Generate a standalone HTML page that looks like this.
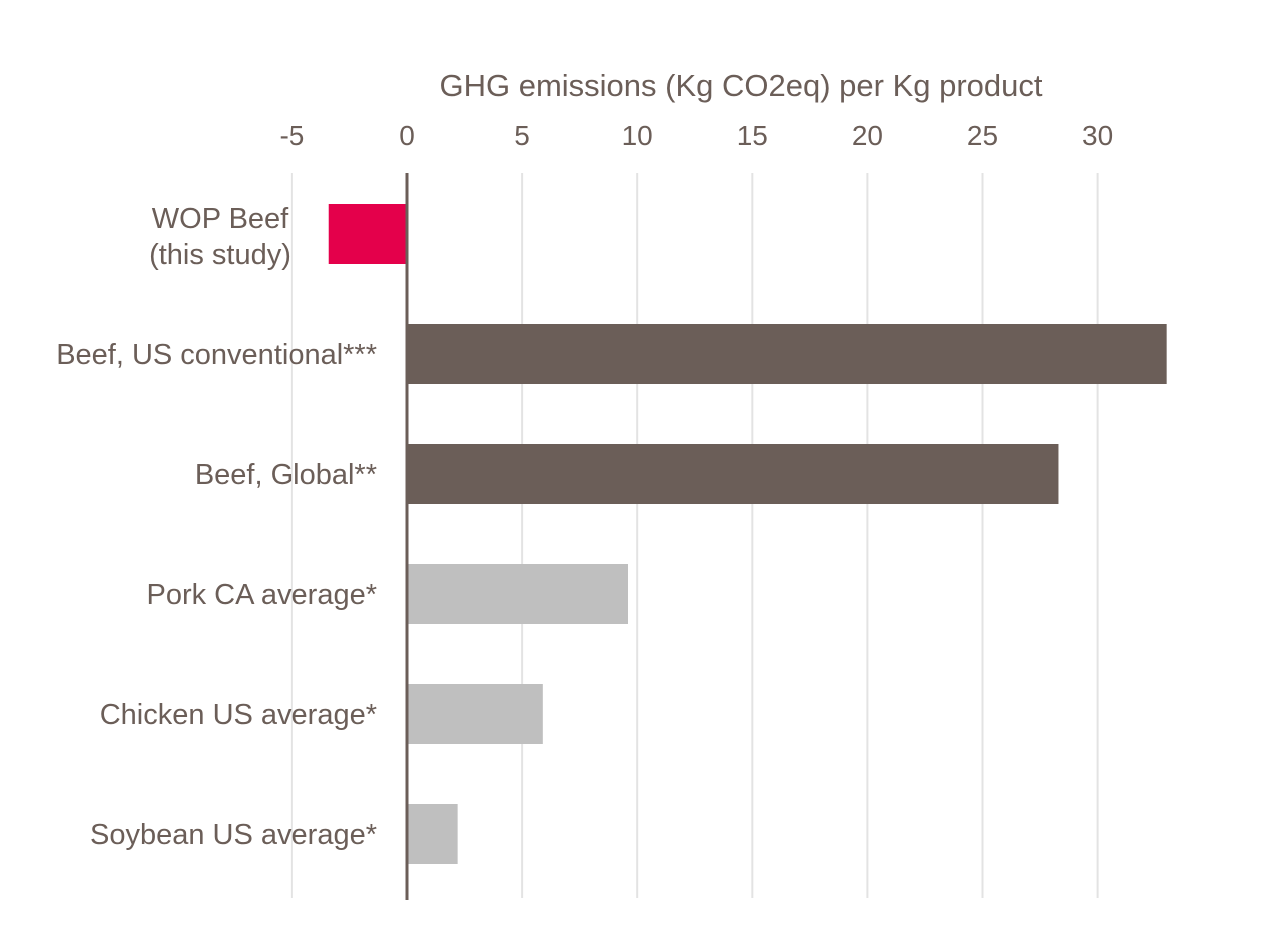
<!DOCTYPE html>
<html><head><meta charset="utf-8"><style>
html,body{margin:0;padding:0;background:#fff;}
svg text{font-family:"Liberation Sans",sans-serif;fill:#6b5e58;}
</style></head><body>
<svg id="chart" width="1268" height="922" viewBox="0 0 1268 922" xmlns="http://www.w3.org/2000/svg">
<text x="741" y="96" font-size="31" text-anchor="middle">GHG emissions (Kg CO2eq) per Kg product</text>
<g id="grid"></g><g id="ticks"></g><g id="bars"></g><g id="labels"></g>
</svg>
<script>
const categories = ["WOP Beef|(this study)","Beef, US conventional***","Beef, Global**","Pork CA average*","Chicken US average*","Soybean US average*"];
const values = [-3.4, 33.0, 28.3, 9.6, 5.9, 2.2];
const colors = ["#e4004b","#6b5e58","#6b5e58","#bfbfbf","#bfbfbf","#bfbfbf"];
const tickValues = [-5,0,5,10,15,20,25,30];
const NS="http://www.w3.org/2000/svg";
const x0=407, pxPerUnit=23.02, plotTop=173, plotBottom=898, band=120, firstCenter=234, barH=60;
const xs=v=>x0+v*pxPerUnit;
const ys=i=>firstCenter+i*band;
function mk(t,a,p){const e=document.createElementNS(NS,t);for(const k in a)e.setAttribute(k,a[k]);p.appendChild(e);return e;}
const grid=document.getElementById('grid'),ticks=document.getElementById('ticks'),bars=document.getElementById('bars'),labels=document.getElementById('labels');
tickValues.forEach(v=>{
  if(v!==0){const l=mk('line',{x1:xs(v),x2:xs(v),y1:plotTop,y2:plotBottom,stroke:'#e3e3e3','stroke-width':2},grid);
  
  }
  const t=mk('text',{x:xs(v),y:145,'font-size':28,'text-anchor':'middle'},ticks);t.textContent=v;
  
  
});
values.forEach((v,i)=>{
  const a=Math.min(xs(0),xs(v)),b=Math.max(xs(0),xs(v));
  const r=mk('rect',{x:a,y:ys(i)-barH/2,width:b-a,height:barH,fill:colors[i]},bars);
  
  
  const parts=categories[i].split('|');
  const lx=i===0?220:377;
  const t=mk('text',{x:lx,y:ys(i)+(parts.length>1?-6:10),'font-size':29,'text-anchor':i===0?'middle':'end'},labels);
  
  
  parts.forEach((p,j)=>{const s=mk('tspan',{x:lx,dy:j?36:0},t);s.textContent=p;});
});
const ax=mk('line',{x1:xs(0),x2:xs(0),y1:plotTop,y2:900,stroke:'#6b5e58','stroke-width':3},bars);


</script>
</body></html>
